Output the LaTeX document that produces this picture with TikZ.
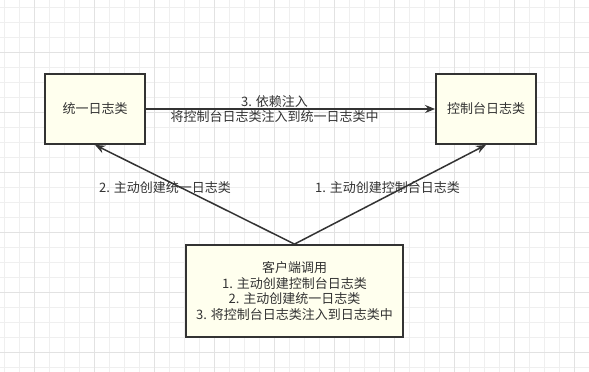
\documentclass[tikz,border=0pt]{standalone}
\usepackage{fontspec}
\setmainfont{Noto Sans CJK SC}
\usetikzlibrary{arrows.meta}
\definecolor{gridthin}{HTML}{EFEFEF}
\definecolor{gridthick}{HTML}{E2E2E2}
\definecolor{boxfill}{HTML}{FFFFEE}
\definecolor{inkgray}{HTML}{333333}
\begin{document}
\begin{tikzpicture}[x=1pt, y=-1pt, >={Stealth[length=10pt, width=8pt]},
    every node/.style={font=\fontsize{13}{15.5}\selectfont, text=inkgray},
    logbox/.style={draw=inkgray, fill=boxfill, line width=1.8pt, minimum width=100pt, minimum height=70pt, inner sep=0pt},
    link/.style={->, draw=inkgray, line width=1.5pt}]
	% 1. 背景网格 (最底层)
	\useasboundingbox (0,0) rectangle (589,372);
	\fill[white] (0,0) rectangle (589,372);
	\foreach \gx in {4,19,...,589} \draw[gridthin, line width=1pt] (\gx,0) -- (\gx,372);
	\foreach \gy in {7,22,...,372} \draw[gridthin, line width=1pt] (0,\gy) -- (589,\gy);
	\foreach \gx in {34,94,...,589} \draw[gridthick, line width=1pt] (\gx,0) -- (\gx,372);
	\foreach \gy in {52,112,...,372} \draw[gridthick, line width=1pt] (0,\gy) -- (589,\gy);
	
	% 2. 类节点
	\node[logbox] (unified) at (95,109) {统一日志类};
	\node[logbox] (console) at (486,109) {控制台日志类};
	\node[logbox, minimum width=217pt, minimum height=92pt, align=center] (client) at (294.5,291)
	  {客户端调用\\1. 主动创建控制台日志类\\2. 主动创建统一日志类\\3. 将控制台日志类注入到日志类中};
	
	% 3. 连线与标号
	\draw[link] (unified) -- (console)
	  node[midway, xshift=-16pt, align=center] {3. 依赖注入\\将控制台日志类注入到统一日志类中};
	\draw[link] (client.north) -- (unified.south)
	  node[pos=0.574, xshift=-15pt] {2. 主动创建统一日志类};
	\draw[link] (client.north) -- (console.south)
	  node[pos=0.574, xshift=-17pt] {1. 主动创建控制台日志类};
\end{tikzpicture}
\end{document}
